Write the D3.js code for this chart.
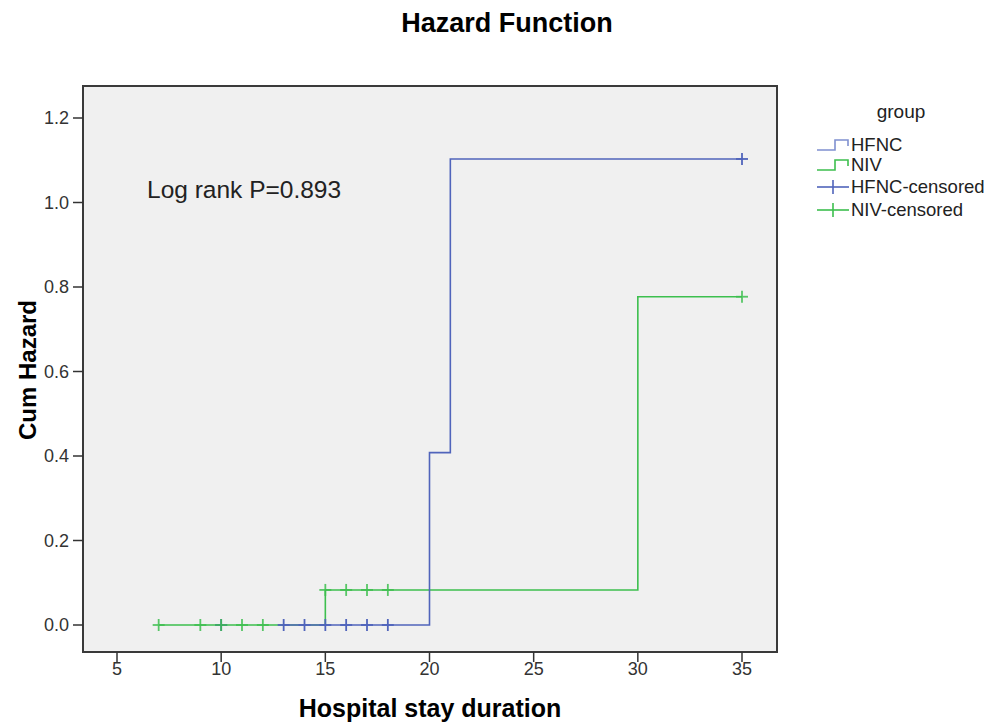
<!DOCTYPE html>
<html>
  <head>
    <meta charset="utf-8" />
    <title>Hazard Function</title>
    <style>
      body {
        margin: 0;
        background: #fff;
        font-family: "Liberation Sans", Arial, sans-serif;
      }
      .frame {
        fill: #f0f0f0;
        stroke: #3a3a3a;
        stroke-width: 2;
      }
      .tick-label {
        font-size: 18px;
        fill: #333;
      }
    </style>
    <script src="https://d3js.org/d3.v7.min.js" charset="utf-8"></script>
  </head>
  <body>
    <script>
      // step data
      const hfncTimes = [13, 20, 21, 35];
      const hfncHazard = [0, 0.408, 1.103, 1.103];
      const nivTimes = [7, 15, 30, 35];
      const nivHazard = [0, 0.083, 0.777, 0.777];

      // censored observations
      const hfncCensTimes = [10, 13, 14, 15, 16, 17, 18, 35];
      const hfncCensHazard = [0, 0, 0, 0, 0, 0, 0, 1.103];
      const nivCensTimes = [7, 9, 10, 11, 12, 15, 16, 17, 18, 35];
      const nivCensHazard = [0, 0, 0, 0, 0, 0.083, 0.083, 0.083, 0.083, 0.777];

      const xTicks = [5, 10, 15, 20, 25, 30, 35];
      const yTicks = [0, 0.2, 0.4, 0.6, 0.8, 1.0, 1.2];

      const groups = ["HFNC", "NIV", "HFNC-censored", "NIV-censored"];

      const blue = "#5064bb",
        blueLight = "#7f90d0",
        green = "#3dbf4e";

      const width = 990,
        height = 725;
      const frame = { left: 83, top: 86, right: 777, bottom: 652 };

      const x = d3.scaleLinear().domain([5, 35]).range([117, 742]);
      const y = d3.scaleLinear().domain([0, 1.2]).range([625, 118]);

      const svg = d3
        .select("body")
        .append("svg")
        .attr("width", width)
        .attr("height", height);

      svg
        .append("text")
        .attr("x", 507)
        .attr("y", 32)
        .attr("text-anchor", "middle")
        .style("font-size", "27px")
        .style("font-weight", "bold")
        .text("Hazard Function");

      svg
        .append("rect")
        .attr("class", "frame")
        .attr("x", frame.left)
        .attr("y", frame.top)
        .attr("width", frame.right - frame.left)
        .attr("height", frame.bottom - frame.top);

      // y axis ticks
      const yAxis = svg.append("g");
      yTicks.forEach(function (t) {
        yAxis
          .append("line")
          .attr("x1", frame.left - 10)
          .attr("x2", frame.left)
          .attr("y1", y(t))
          .attr("y2", y(t))
          .attr("stroke", "#333")
          .attr("stroke-width", 1.5);
        yAxis
          .append("text")
          .attr("class", "tick-label")
          .attr("x", frame.left - 14)
          .attr("y", y(t))
          .attr("dy", ".35em")
          .attr("text-anchor", "end")
          .text(d3.format(".1f")(t));
      });

      // x axis ticks
      const xAxis = svg.append("g");
      xTicks.forEach(function (t) {
        xAxis
          .append("line")
          .attr("x1", x(t))
          .attr("x2", x(t))
          .attr("y1", frame.bottom)
          .attr("y2", frame.bottom + 10)
          .attr("stroke", "#333")
          .attr("stroke-width", 1.5);
        xAxis
          .append("text")
          .attr("class", "tick-label")
          .attr("x", x(t))
          .attr("y", frame.bottom + 23)
          .attr("text-anchor", "middle")
          .text(t);
      });

      svg
        .append("text")
        .attr("transform", "translate(36,370)rotate(-90)")
        .attr("text-anchor", "middle")
        .style("font-size", "24px")
        .style("font-weight", "bold")
        .text("Cum Hazard");

      svg
        .append("text")
        .attr("x", 430)
        .attr("y", 717)
        .attr("text-anchor", "middle")
        .style("font-size", "25px")
        .style("font-weight", "bold")
        .text("Hospital stay duration");

      svg
        .append("text")
        .attr("x", 147)
        .attr("y", 198)
        .style("font-size", "24.5px")
        .style("fill", "#222")
        .text("Log rank P=0.893");

      const step = d3
        .line()
        .x(function (d) {
          return x(d[0]);
        })
        .y(function (d) {
          return y(d[1]);
        })
        .curve(d3.curveStepAfter);

      svg
        .append("path")
        .datum(d3.zip(nivTimes, nivHazard))
        .attr("d", step)
        .attr("fill", "none")
        .attr("stroke", green)
        .attr("stroke-width", 1.6);

      svg
        .append("path")
        .datum(d3.zip(hfncTimes, hfncHazard))
        .attr("d", step)
        .attr("fill", "none")
        .attr("stroke", blue)
        .attr("stroke-width", 1.6);

      function censor(times, values, color, opacity) {
        const g = svg
          .append("g")
          .attr("stroke", color)
          .attr("stroke-width", 1.8)
          .attr("opacity", opacity);
        d3.zip(times, values).forEach(function (d) {
          const cx = x(d[0]),
            cy = y(d[1]);
          g.append("line").attr("x1", cx - 6).attr("x2", cx + 6).attr("y1", cy).attr("y2", cy);
          g.append("line").attr("x1", cx).attr("x2", cx).attr("y1", cy - 6).attr("y2", cy + 6);
        });
      }
      censor(hfncCensTimes, hfncCensHazard, blue, 1);
      censor(nivCensTimes, nivCensHazard, green, 0.85);

      // legend
      const legend = svg.append("g");
      legend
        .append("text")
        .attr("x", 901)
        .attr("y", 118)
        .attr("text-anchor", "middle")
        .style("font-size", "19px")
        .style("fill", "#222")
        .text("group");

      const legendY = [145, 165, 187, 210];
      const legendColor = [blueLight, green, blue, green];
      groups.forEach(function (name, i) {
        const ly = legendY[i];
        if (i < 2) {
          legend
            .append("path")
            .attr("d", "M817," + (ly + 5) + "H835V" + (ly - 5) + "H848V" + (ly + 1))
            .attr("fill", "none")
            .attr("stroke", legendColor[i])
            .attr("stroke-width", 1.6);
        } else {
          legend
            .append("line")
            .attr("x1", 817)
            .attr("x2", 849)
            .attr("y1", ly)
            .attr("y2", ly)
            .attr("stroke", legendColor[i])
            .attr("stroke-width", 1.6);
          legend
            .append("line")
            .attr("x1", 833)
            .attr("x2", 833)
            .attr("y1", ly - 7)
            .attr("y2", ly + 7)
            .attr("stroke", legendColor[i])
            .attr("stroke-width", 1.6);
        }
        legend
          .append("text")
          .attr("x", 851)
          .attr("y", ly)
          .attr("dy", ".35em")
          .style("font-size", "18.5px")
          .style("fill", "#222")
          .text(name);
      });
    </script>
  </body>
</html>
